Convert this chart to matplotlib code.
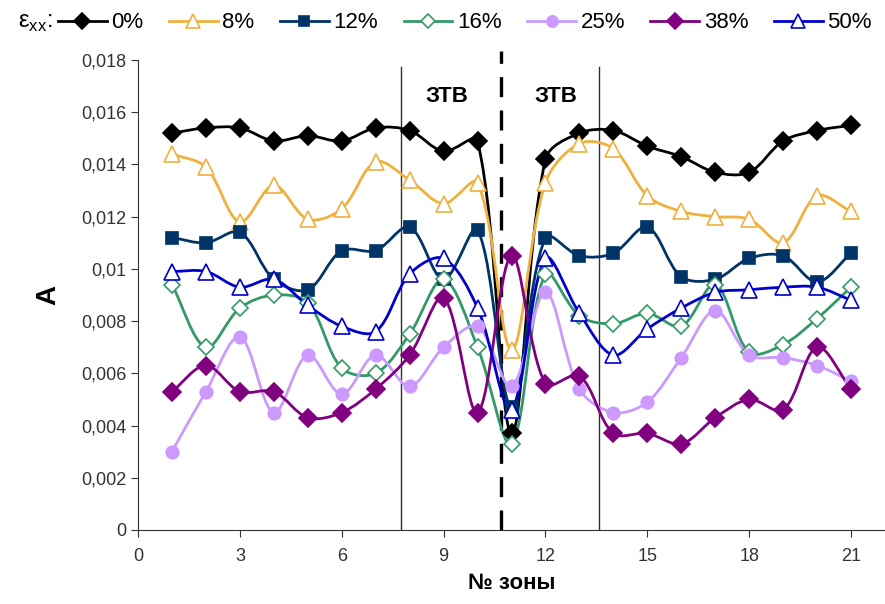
"""Amplitude A by zone for several strain levels (smoothed lines, Excel style)."""

import matplotlib
matplotlib.use("Agg")
import matplotlib.pyplot as plt
import numpy as np
from matplotlib.lines import Line2D
from matplotlib.patches import PathPatch
from matplotlib.path import Path
from matplotlib.ticker import FuncFormatter

plt.rcParams["font.family"] = ["Liberation Sans", "DejaVu Sans"]
plt.rcParams["mathtext.fontset"] = "custom"
plt.rcParams["mathtext.rm"] = "Liberation Sans"

zones = list(range(1, 22))
strain_labels = ["0%", "8%", "12%", "16%", "25%", "38%", "50%"]

a_0 = [0.0152, 0.0154, 0.0154, 0.0149, 0.0151, 0.0149, 0.0154, 0.0153, 0.0145, 0.0149, 0.0037,
       0.0142, 0.0152, 0.0153, 0.0147, 0.0143, 0.0137, 0.0137, 0.0149, 0.0153, 0.0155]
a_8 = [0.0144, 0.0139, 0.0118, 0.0132, 0.0119, 0.0123, 0.0141, 0.0134, 0.0125, 0.0133, 0.0069,
       0.0133, 0.0148, 0.0146, 0.0128, 0.0122, 0.0120, 0.0119, 0.0110, 0.0128, 0.0122]
a_12 = [0.0112, 0.0110, 0.0114, 0.0096, 0.0092, 0.0107, 0.0107, 0.0116, 0.0096, 0.0115, 0.0047,
        0.0112, 0.0105, 0.0106, 0.0116, 0.0097, 0.0096, 0.0104, 0.0105, 0.0095, 0.0106]
a_16 = [0.0094, 0.0070, 0.0085, 0.0090, 0.0087, 0.0062, 0.0060, 0.0075, 0.0096, 0.0070, 0.0033,
        0.0098, 0.0082, 0.0079, 0.0083, 0.0078, 0.0094, 0.0068, 0.0071, 0.0081, 0.0093]
a_25 = [0.0030, 0.0053, 0.0074, 0.0045, 0.0067, 0.0052, 0.0067, 0.0055, 0.0070, 0.0078, 0.0055,
        0.0091, 0.0054, 0.0045, 0.0049, 0.0066, 0.0084, 0.0067, 0.0066, 0.0063, 0.0057]
a_38 = [0.0053, 0.0063, 0.0053, 0.0053, 0.0043, 0.0045, 0.0054, 0.0067, 0.0089, 0.0045, 0.0105,
        0.0056, 0.0059, 0.0037, 0.0037, 0.0033, 0.0043, 0.0050, 0.0046, 0.0070, 0.0054]
a_50 = [0.0099, 0.0099, 0.0093, 0.0096, 0.0086, 0.0078, 0.0076, 0.0098, 0.0104, 0.0085, 0.0046,
        0.0104, 0.0083, 0.0067, 0.0077, 0.0085, 0.0091, 0.0092, 0.0093, 0.0093, 0.0088]

zone_bounds = [7.75, 13.57]   # thin solid lines
centre_line = 10.68           # dashed line
zone_label = "ЗТВ"
zone_label_x = [9.1, 12.3]

series = [a_0, a_8, a_12, a_16, a_25, a_38, a_50]
styles = [
    dict(color="#000000", marker="D", mfc="#000000", ms=9),
    dict(color="#F0B040", marker="^", mfc="white", ms=11),
    dict(color="#003366", marker="s", mfc="#003366", ms=8),
    dict(color="#339966", marker="D", mfc="white", ms=8),
    dict(color="#CC99FF", marker="o", mfc="#CC99FF", ms=9),
    dict(color="#800080", marker="D", mfc="#800080", ms=9),
    dict(color="#0000CC", marker="^", mfc="white", ms=11),
]


def smooth_path(ax, x, y):
    """Bezier path through the points; tangents scaled by neighbouring segment
    lengths in screen space (close to Excel's smoothed line)."""
    pts = ax.transData.transform(np.column_stack([x, y]).astype(float))
    padded = np.vstack([pts[0], pts, pts[-1]])
    verts = [pts[0]]
    codes = [Path.MOVETO]
    for i in range(len(pts) - 1):
        p0, p1, p2, p3 = padded[i], padded[i + 1], padded[i + 2], padded[i + 3]
        d01 = np.hypot(*(p1 - p0))
        d12 = np.hypot(*(p2 - p1))
        d23 = np.hypot(*(p3 - p2))
        f1 = d12 / (d01 + d12) if d01 + d12 > 0 else 0
        f2 = d12 / (d12 + d23) if d12 + d23 > 0 else 0
        verts += [p1 + (p2 - p0) * f1 / 3, p2 - (p3 - p1) * f2 / 3, p2]
        codes += [Path.CURVE4] * 3
    verts = ax.transData.inverted().transform(np.array(verts))
    return Path(verts, codes)


fig = plt.figure(figsize=(8.85, 6.04), dpi=100)
ax = fig.add_axes([138 / 885, 74 / 604, 747 / 885, 470 / 604])
ax.set_xlim(0, 22)
ax.set_ylim(0, 0.018)

for x in zone_bounds:
    ax.axvline(x, ymin=0, ymax=0.985, color="#303030", lw=1.0, zorder=1)
ax.axvline(centre_line, ymin=0, ymax=1.02, color="black", lw=2.4, dashes=(6, 4),
           clip_on=False, zorder=1)

handles = []
for vals, st in zip(series, styles):
    ax.add_patch(PathPatch(smooth_path(ax, zones, vals), facecolor="none",
                           edgecolor=st["color"], lw=2.0, zorder=2))
    ax.plot(zones, vals, ls="none", marker=st["marker"], ms=st["ms"],
            mfc=st["mfc"], mec=st["color"], mew=1.2, zorder=3)
    handles.append(Line2D([], [], color=st["color"], lw=2.0, marker=st["marker"],
                          ms=st["ms"] * 0.9, mfc=st["mfc"], mec=st["color"], mew=1.2))

for x in zone_label_x:
    ax.text(x, 0.0166, zone_label, ha="center", va="center", fontsize=16, fontweight="bold")

ax.set_xticks(range(0, 22, 3))
ax.set_yticks(np.arange(0, 0.0181, 0.002))
ax.yaxis.set_major_formatter(FuncFormatter(lambda v, _: f"{v:.3f}".rstrip("0").rstrip(".").replace(".", ",")))
ax.tick_params(direction="out", length=5, labelsize=13, labelcolor="#333333", color="#333333")
ax.tick_params(axis="x", pad=8)
for side in ("top", "right"):
    ax.spines[side].set_visible(False)
for side in ("left", "bottom"):
    ax.spines[side].set_color("#333333")

ax.set_xlabel("№ зоны", fontsize=16, fontweight="bold", labelpad=6)
ax.set_ylabel("A", fontsize=20, fontweight="bold", rotation=90, labelpad=14)

fig.text(18 / 885, 0.962, r"ε$_{\mathrm{xx}}$:", fontsize=17, va="center", ha="left")
fig.legend(handles, strain_labels, loc="center left", bbox_to_anchor=(58 / 885, 0.962),
           ncol=7, frameon=False, fontsize=16, handlelength=2.2, handletextpad=0.2,
           columnspacing=1.15, borderpad=0, borderaxespad=0)

fig.savefig("out.png", dpi=100)
